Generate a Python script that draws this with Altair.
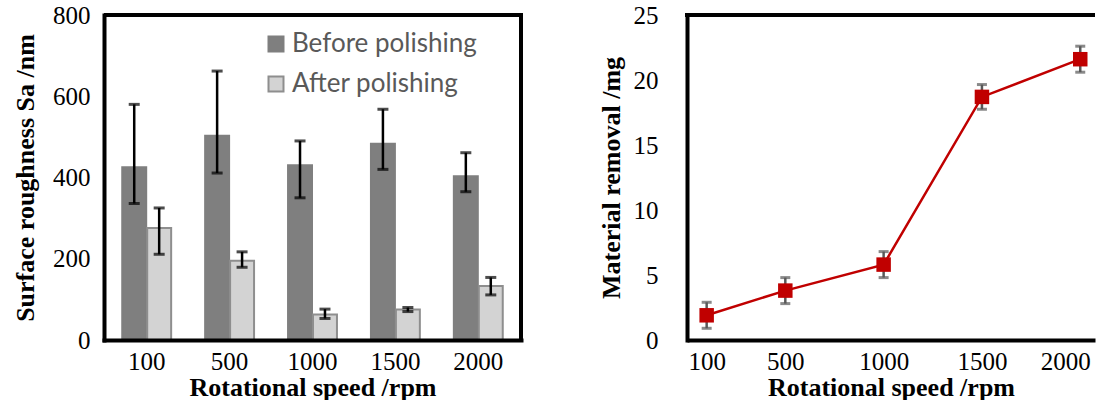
import altair as alt
import pandas as pd

# Surface roughness (Sa, nm) per rotational speed, before and after polishing
speeds = ["100", "500", "1000", "1500", "2000"]
conditions = ["Before polishing", "After polishing"]
before_mean = [425, 503, 430, 483, 403]
before_low = [336, 411, 350, 420, 365]
before_high = [580, 662, 490, 568, 461]
after_mean = [276, 195, 63, 75, 133]
after_low = [211, 179, 53, 70, 111]
after_high = [325, 217, 76, 80, 154]

# Material removal (mg) per rotational speed
rpm = [100, 500, 1000, 1500, 2000]
removal = [1.9, 3.8, 5.8, 18.7, 21.6]
removal_err = [1.0, 1.0, 1.0, 0.95, 1.0]

rough_ticks = [0, 200, 400, 600, 800]
removal_ticks = [0, 5, 10, 15, 20, 25]

rough = pd.DataFrame({
    "speed": speeds * 2,
    "condition": [conditions[0]] * len(speeds) + [conditions[1]] * len(speeds),
    "value": before_mean + after_mean,
    "low": before_low + after_low,
    "high": before_high + after_high,
})
mass = pd.DataFrame({
    "rpm": rpm,
    "removal": removal,
    "low": [m - e for m, e in zip(removal, removal_err)],
    "high": [m + e for m, e in zip(removal, removal_err)],
})

SERIF = "Liberation Serif"
PLOT_H = 325
LEFT_W = 417
RIGHT_W = 408
GAP = 166
X_TITLE = "Rotational speed /rpm"

axis_style = dict(
    labelFont=SERIF, labelFontSize=25, labelColor="black",
    titleFont=SERIF, titleFontSize=26, titleFontWeight="bold", titleColor="black",
    grid=False, ticks=False, tickSize=0, zindex=1,
    domainWidth=4, domainColor="black", domainCap="square",
)

# frame edges that no axis draws
def edge_rule(**enc):
    return alt.Chart(pd.DataFrame({"edge": [0]})).mark_rule(
        color="black", strokeWidth=4, strokeCap="butt"
    ).encode(**enc)

# ---------- left panel: grouped bars ----------
x_band = alt.X(
    "speed:N", sort=speeds,
    scale=alt.Scale(paddingInner=0.41, paddingOuter=0.22),
    axis=alt.Axis(title=X_TITLE, labelAngle=0, labelPadding=9, titlePadding=0,
                  **axis_style),
)
x_off = alt.XOffset("condition:N", sort=conditions,
                    scale=alt.Scale(domain=conditions, paddingInner=0.04))
rough_axis = alt.Axis(values=rough_ticks, title="Surface roughness Sa /nm",
                      labelPadding=14, titlePadding=14, **axis_style)
rough_scale = alt.Scale(domain=[0, 800], nice=False)

legend_cfg = dict(
    title=None, orient="none", legendX=159, legendY=16,
    symbolType="square", symbolSize=225, symbolStrokeWidth=2,
    labelFont="Lato", labelFontSize=26, labelColor="#595959", labelLimit=400,
    rowPadding=14, labelOffset=3,
)

bars = alt.Chart(rough).mark_bar(strokeWidth=2).encode(
    x=x_band,
    xOffset=x_off,
    y=alt.Y("value:Q", scale=rough_scale, axis=rough_axis),
    fill=alt.Fill("condition:N", sort=conditions,
                  scale=alt.Scale(domain=conditions, range=["#7f7f7f", "#d3d3d3"]),
                  legend=alt.Legend(**legend_cfg)),
    stroke=alt.Stroke("condition:N", sort=conditions,
                      scale=alt.Scale(domain=conditions, range=["#7f7f7f", "#8e8e8e"]),
                      legend=alt.Legend(**legend_cfg)),
)

err_rule = alt.Chart(rough).mark_rule(color="black", strokeWidth=2.5).encode(
    x=alt.X("speed:N", sort=speeds),
    xOffset=alt.XOffset("condition:N", sort=conditions),
    y=alt.Y("low:Q", scale=rough_scale, axis=rough_axis),
    y2="high:Q",
)
cap_low = alt.Chart(rough).mark_tick(color="black", size=11, thickness=3).encode(
    x=alt.X("speed:N", sort=speeds),
    xOffset=alt.XOffset("condition:N", sort=conditions),
    y=alt.Y("low:Q", scale=rough_scale, axis=rough_axis),
)
cap_high = cap_low.encode(y=alt.Y("high:Q", scale=rough_scale, axis=rough_axis))

left = alt.layer(
    bars, err_rule, cap_low, cap_high,
    edge_rule(x=alt.value(0), x2=alt.value(LEFT_W), y=alt.value(0)),
    edge_rule(x=alt.value(LEFT_W), y=alt.value(-2), y2=alt.value(PLOT_H + 2)),
).properties(width=LEFT_W, height=PLOT_H)

# ---------- right panel: line with error bars ----------
x_rpm_scale = alt.Scale(domain=[0, 2075], nice=False, zero=True)
right_axis_style = dict(axis_style, domainCap="butt")
x_rpm_axis = alt.Axis(values=rpm, format="d", title=X_TITLE,
                      labelPadding=9, titlePadding=0,
                      labelFlush=18, labelFlushOffset=10, **right_axis_style)
rem_scale = alt.Scale(domain=[0, 25], nice=False)
rem_axis = alt.Axis(values=removal_ticks, title="Material removal /mg",
                    labelPadding=29, titlePadding=9, **axis_style)

base = alt.Chart(mass).encode(x=alt.X("rpm:Q", scale=x_rpm_scale, axis=x_rpm_axis))

r_err = base.mark_rule(color="#595959", strokeWidth=2.5).encode(
    y=alt.Y("low:Q", scale=rem_scale, axis=rem_axis), y2="high:Q"
)
r_cap_low = base.mark_tick(color="#595959", size=10, thickness=3,
                           orient="horizontal").encode(
    y=alt.Y("low:Q", scale=rem_scale, axis=rem_axis)
)
r_cap_high = base.mark_tick(color="#595959", size=10, thickness=3,
                            orient="horizontal").encode(
    y=alt.Y("high:Q", scale=rem_scale, axis=rem_axis)
)
r_line = base.mark_line(color="#c00000", strokeWidth=2.5).encode(
    y=alt.Y("removal:Q", scale=rem_scale, axis=rem_axis)
)
r_pts = base.mark_square(color="#c00000", size=210, opacity=1).encode(
    y=alt.Y("removal:Q", scale=rem_scale, axis=rem_axis)
)

right = alt.layer(
    r_err, r_cap_low, r_cap_high, r_line, r_pts,
    edge_rule(x=alt.value(-2), x2=alt.value(RIGHT_W), y=alt.value(0)),
).properties(width=RIGHT_W, height=PLOT_H)

chart = alt.hconcat(left, right, spacing=GAP, bounds="flush").properties(
    padding={"left": 12, "top": 3, "right": 0, "bottom": 0}
).configure(
    font=SERIF,
).configure_view(
    strokeWidth=0,
)

chart.save("out.html", embed_options={"renderer": "svg", "actions": False})
